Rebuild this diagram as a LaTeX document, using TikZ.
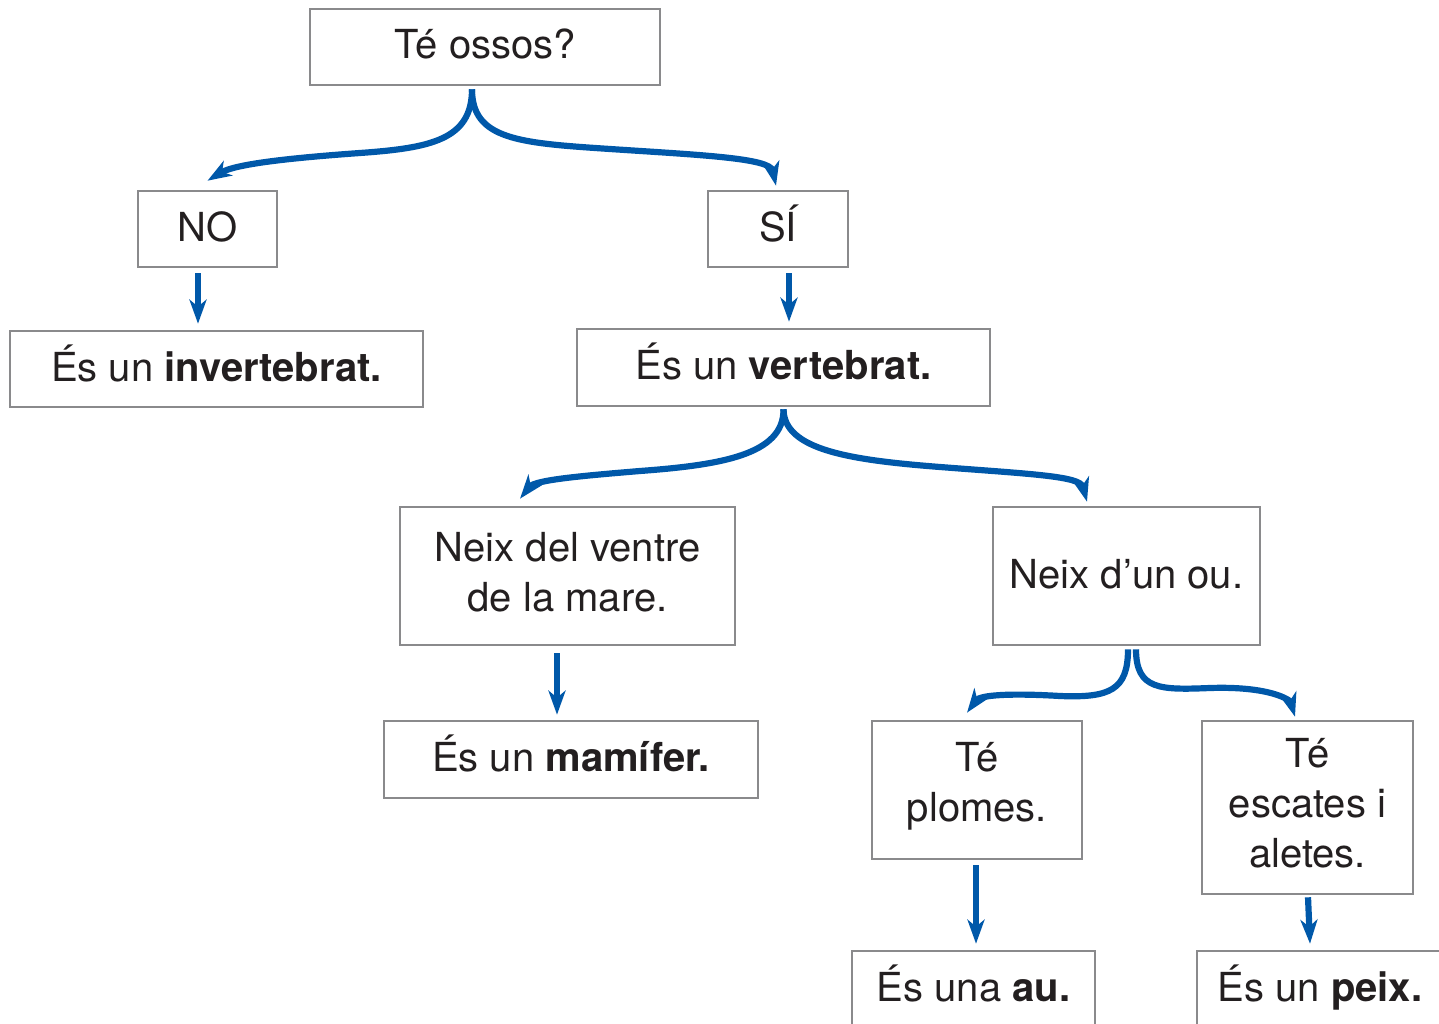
\documentclass[tikz,border=0pt]{standalone}
\usepackage{fontspec}
\setmainfont{TeX Gyre Heros}
\usetikzlibrary{arrows.meta}
\definecolor{arrowblue}{HTML}{0058A9}
\definecolor{boxgray}{HTML}{8A8A8C}
\definecolor{txt}{HTML}{231F20}
\begin{document}
\begin{tikzpicture}[x=1pt,y=-1pt,
  box/.style={draw=boxgray,line width=2.6pt,fill=white,inner sep=0pt,align=center,
    text=txt,font=\fontsize{40}{50}\selectfont},
  onebox/.style={box,text height=30pt,text depth=6pt},
  lbl/.style={align=center,text=txt,font=\fontsize{40}{50}\selectfont,inner sep=0pt,yshift=4pt},
  arr/.style={draw=arrowblue,line width=6.2pt,
    -{Stealth[length=24pt,width=17pt,inset=7pt]}}]
\useasboundingbox (0,0) rectangle (1439,1024);
\clip (0,0) rectangle (1439,1024);
% nodes
\node[onebox,minimum width=350pt,minimum height=76pt] (q) at (485,47) {Té ossos?};
\node[onebox,minimum width=139pt,minimum height=76pt] (no) at (207.5,229) {NO};
\node[onebox,minimum width=140pt,minimum height=76pt] (si) at (778,229) {SÍ};
\node[onebox,minimum width=413pt,minimum height=76pt] (inv) at (216.5,369) {És un \textbf{invertebrat.}};
\node[onebox,minimum width=413pt,minimum height=77pt] (vert) at (783.5,367.5) {És un \textbf{vertebrat.}};
\node[box,minimum width=335pt,minimum height=138pt,
  label={[lbl]center:{Neix del ventre\\de la mare.}}] (ventre) at (567.5,576) {};
\node[onebox,minimum width=267pt,minimum height=138pt] (ou) at (1126.5,576) {Neix d’un ou.};
\node[onebox,minimum width=374pt,minimum height=77pt] (mam) at (571,759.5) {És un \textbf{mamífer.}};
\node[box,minimum width=210pt,minimum height=138pt,
  label={[lbl]center:{Té\\plomes.}}] (plom) at (977,790) {};
\node[box,minimum width=211pt,minimum height=173pt,
  label={[lbl]center:{Té\\escates i\\aletes.}}] (esc) at (1307.5,807.5) {};
\node[onebox,minimum width=243pt,minimum height=76pt] (au) at (973.5,989) {És una \textbf{au.}};
\node[onebox,minimum width=246pt,minimum height=76pt] (peix) at (1320,989) {És un \textbf{peix.}};
% curved connectors
\draw[arr] ([xshift=-13pt,yshift=-3pt]q.south) .. controls (472,140) and (430,148) .. (360,153)
  .. controls (290,158) and (235,164) .. ([yshift=9pt]no.north);
\draw[arr] ([xshift=-13pt,yshift=-3pt]q.south) .. controls (472,140) and (520,143) .. (610,149)
  .. controls (700,155) and (770,158) .. ([xshift=-2pt,yshift=4pt]si.north);
\draw[arr] ([yshift=-2pt]vert.south) .. controls (784,455) and (720,465) .. (640,471)
  .. controls (580,476) and (535,480) .. ([xshift=-47.5pt,yshift=7pt]ventre.north);
\draw[arr] ([yshift=-2pt]vert.south) .. controls (784,450) and (850,460) .. (940,467)
  .. controls (1030,474) and (1080,476) .. ([xshift=-39.5pt,yshift=4pt]ou.north);
\draw[arr] ([xshift=1.5pt,yshift=-3pt]ou.south) .. controls (1128,690) and (1110,698) .. (1060,696)
  .. controls (1010,693) and (980,695) .. ([xshift=-10pt,yshift=7pt]plom.north);
\draw[arr] ([xshift=9.5pt,yshift=-3pt]ou.south) .. controls (1136,690) and (1160,690) .. (1210,688)
  .. controls (1270,686) and (1290,700) .. ([xshift=-12.5pt,yshift=3pt]esc.north);
% straight connectors
\draw[arr] ([xshift=-9.5pt,yshift=-5pt]no.south) -- ([xshift=-18.5pt,yshift=6pt]inv.north);
\draw[arr] ([xshift=11pt,yshift=-5pt]si.south) -- ([xshift=5.5pt,yshift=6pt]vert.north);
\draw[arr] ([xshift=-10.5pt,yshift=-7pt]ventre.south) -- ([xshift=-14pt,yshift=5pt]mam.north);
\draw[arr] ([xshift=-1pt,yshift=-5pt]plom.south) -- ([xshift=2.5pt,yshift=6pt]au.north);
\draw[arr] ([xshift=0.5pt,yshift=-2pt]esc.south) -- ([xshift=-10pt,yshift=6pt]peix.north);
\end{tikzpicture}
\end{document}
